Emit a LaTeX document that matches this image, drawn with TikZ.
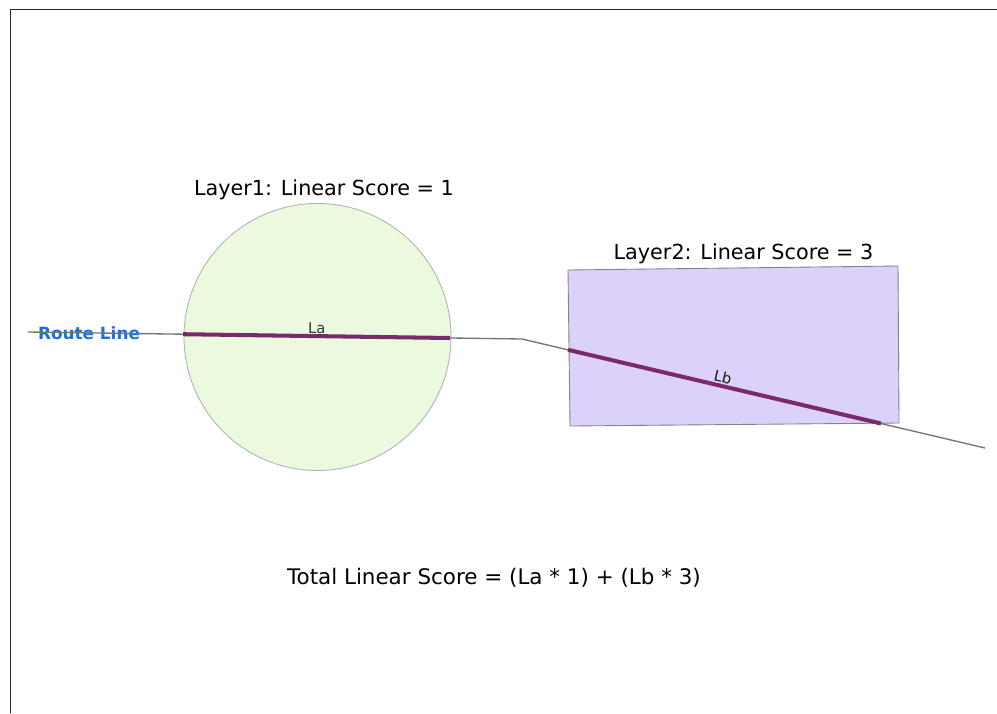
\documentclass[tikz,border=0pt]{standalone}
\usepackage{fontspec}
\setmainfont{DejaVu Sans}
\usetikzlibrary{calc}

\definecolor{layerone}{HTML}{EBFADF}
\definecolor{layertwo}{HTML}{DCD1FA}
\definecolor{routeblue}{HTML}{1E6EDC}
\definecolor{hitpurple}{HTML}{7A2A6A}

\tikzset{
    route/.style={line width=0.38pt, gray!90!black},
    hit/.style={line width=1.15pt, hitpurple},
    title/.style={anchor=base, font=\fontsize{5.9}{7}\selectfont},
    seglabel/.style={anchor=base, font=\fontsize{4.2}{5}\selectfont, black!80}
}

\begin{document}
\begin{tikzpicture}[x=1cm, y=-1cm]
    \useasboundingbox (0,0) rectangle (9.97,7.13);

    % Frame
    \draw[line width=0.55pt, black!85] (0.105,7.13) -- (0.105,0.095) -- (9.97,0.095);

    % Layer 1
    \fill[layerone] (3.175,3.37) circle (1.335);
    \draw[line width=0.25pt, gray!60] (3.175,3.37) circle (1.335);
    \node[title] (t1) at (3.24,1.95) {Layer1: Linear Score = 1};

    % Layer 2
    \fill[layertwo] (5.68,2.70) -- (8.98,2.66) -- (8.99,4.23) -- (5.70,4.26) -- cycle;
    \draw[line width=0.25pt, gray!60!layertwo!80!black] (5.68,2.70) -- (8.98,2.66) -- (8.99,4.23) -- (5.70,4.26) -- cycle;
    \node[title] (t2) at (7.435,2.595) {Layer2: Linear Score = 3};

    \node[font=\fontsize{4.8}{6}\selectfont\bfseries, text=routeblue, inner sep=0pt] (rl) at (0.89,3.33) {Route Line};

    % Route
    \coordinate (start) at (0.28,3.32);
    \coordinate (bend) at (5.22,3.39);
    \coordinate (end) at (9.85,4.48);
    \coordinate (a1) at (1.83,3.342);
    \coordinate (a2) at (4.50,3.38);
    \coordinate (b1) at (5.68,3.498);
    \coordinate (b2) at (8.81,4.235);
    \draw[route] (start) -- (bend) -- (end);
    \draw[hit] (a1) -- (a2);
    \draw[hit] (b1) -- (b2);

    \node[seglabel] (la) at (3.167,3.333) {La};
    \node[seglabel, rotate=-13, anchor=center, black!90] (lb) at (7.23,3.77) {Lb};

    % Total
    \node[anchor=base, font=\fontsize{6.1}{7}\selectfont] (total) at (4.94,5.84) {Total Linear Score = (La * 1) + (Lb * 3)};

\end{tikzpicture}
\end{document}
